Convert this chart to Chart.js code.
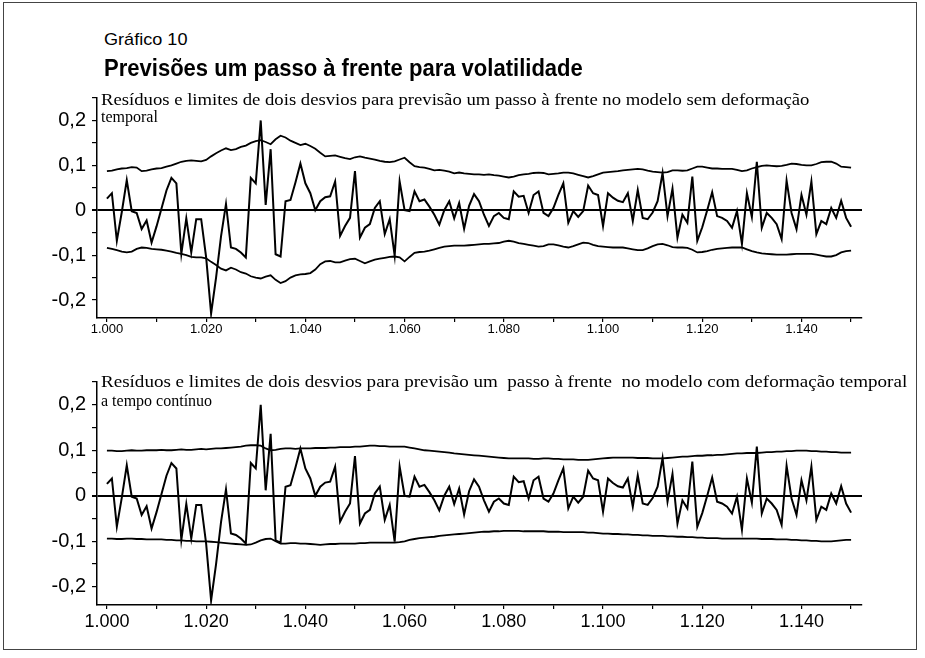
<!DOCTYPE html>
<html lang="pt-BR">
<head>
<meta charset="utf-8">
<script src="https://cdn.jsdelivr.net/npm/chart.js@4.4.1/dist/chart.umd.min.js"></script>
<style>
  html, body { margin: 0; padding: 0; background: #fff; }
  #page { position: relative; width: 925px; height: 658px; overflow: hidden; background: #fff; }
  #moldura { position: absolute; left: 3px; top: 2px; width: 914px; height: 648px; border: 1px solid #444; box-sizing: border-box; }
  canvas { position: absolute; left: 0; }
  .txt { position: absolute; white-space: pre; line-height: 1; color: #000; transform-origin: 0 50%; }
  .sans { font-family: "Liberation Sans", Arial, sans-serif; }
  .serif { font-family: "Liberation Serif", "Times New Roman", serif; }
</style>
</head>
<body>
<div id="page">
  <div id="moldura"></div>
  <canvas id="painelA" width="925" height="260" style="top:80px"></canvas>
  <canvas id="painelB" width="925" height="298" style="top:360px"></canvas>

  <div class="txt sans" data-w="83" style="left:104px;top:31px;font-size:17px">Gráfico 10</div>
  <div class="txt sans" data-w="479" style="left:104px;top:57px;font-size:23px;font-weight:bold">Previsões um passo à frente para volatilidade</div>

  <div class="txt serif" data-w="709" style="left:101px;top:92px;font-size:16px">Resíduos e limites de dois desvios para previsão um passo à frente no modelo sem deformação</div>
  <div class="txt serif" style="left:101px;top:109px;font-size:16px">temporal</div>

  <div class="txt serif" data-w="806" style="left:101px;top:374px;font-size:16px">Resíduos e limites de dois desvios para previsão um  passo à frente  no modelo com deformação temporal</div>
  <div class="txt serif" style="left:101px;top:393px;font-size:16px">a tempo contínuo</div>
</div>

<script>
// períodos 1.000 a 1.150
const inicio = 1000;

const residuos = [
  0.026, 0.038, -0.068, -0.004, 0.067, -0.002, -0.006, -0.042, -0.023, -0.072,
  -0.036, 0.004, 0.044, 0.072, 0.06, -0.097, -0.018, -0.094, -0.02, -0.02,
  -0.105, -0.23, -0.15, -0.058, 0.014, -0.083, -0.086, -0.094, -0.105, 0.072,
  0.06, 0.2, 0.012, 0.136, -0.098, -0.103, 0.02, 0.023, 0.062, 0.104,
  0.06, 0.038, 0.0, 0.02, 0.029, 0.031, 0.064, -0.057, -0.035, -0.017,
  0.087, -0.061, -0.039, -0.031, 0.005, 0.02, -0.053, -0.02, -0.101, 0.064,
  0.0, -0.002, 0.042, 0.02, 0.024, 0.008, -0.01, -0.032, 0.0, 0.02,
  -0.018, 0.016, -0.041, 0.01, 0.036, 0.02, -0.01, -0.035, -0.013, -0.006,
  -0.017, -0.02, 0.042, 0.03, 0.032, -0.006, 0.034, 0.042, -0.006, -0.013,
  0.005, 0.034, 0.06, -0.028, -0.002, -0.015, -0.002, 0.055, 0.038, 0.034,
  -0.035, 0.038, 0.028, 0.021, 0.018, 0.038, -0.024, 0.045, -0.017, -0.02,
  -0.005, 0.02, 0.083, -0.013, 0.048, -0.061, -0.01, -0.028, 0.075, -0.068,
  -0.038, 0.0, 0.04, -0.013, -0.017, -0.024, -0.039, -0.002, -0.075, 0.038,
  -0.015, 0.108, -0.039, -0.006, -0.017, -0.031, -0.064, 0.066, -0.006, -0.042,
  0.034, -0.01, 0.064, -0.053, -0.024, -0.031, 0.005, -0.017, 0.021, -0.017,
  -0.037
];

// modelo sem deformação temporal
const limSupA = [
  0.087, 0.088, 0.091, 0.093, 0.094, 0.096, 0.095, 0.087, 0.088, 0.091,
  0.093, 0.094, 0.097, 0.1, 0.104, 0.108, 0.11, 0.111, 0.11, 0.109,
  0.112, 0.12, 0.127, 0.133, 0.138, 0.134, 0.136, 0.141, 0.144, 0.15,
  0.154, 0.156, 0.152, 0.147, 0.158, 0.166, 0.162, 0.155, 0.15, 0.145,
  0.148, 0.143, 0.137, 0.128, 0.12, 0.121, 0.122, 0.119, 0.116, 0.114,
  0.118, 0.12, 0.117, 0.115, 0.113, 0.11, 0.108, 0.107, 0.109, 0.113,
  0.117, 0.107, 0.098, 0.096, 0.095, 0.092, 0.089, 0.09, 0.088, 0.086,
  0.082, 0.084, 0.082, 0.081, 0.08, 0.08, 0.079, 0.08, 0.078, 0.077,
  0.075, 0.073, 0.075, 0.078, 0.08, 0.081, 0.083, 0.084, 0.083, 0.08,
  0.081, 0.082, 0.084, 0.084, 0.082, 0.079, 0.076, 0.073, 0.076, 0.08,
  0.084, 0.085, 0.086, 0.087, 0.089, 0.09, 0.091, 0.092, 0.091, 0.088,
  0.086, 0.085, 0.084, 0.085, 0.089, 0.089, 0.088, 0.089, 0.093, 0.097,
  0.097, 0.095, 0.093, 0.093, 0.092, 0.092, 0.092, 0.09, 0.087, 0.089,
  0.093, 0.096, 0.099, 0.1, 0.099, 0.098, 0.099, 0.101, 0.104, 0.103,
  0.101, 0.1, 0.1, 0.103, 0.107, 0.108, 0.108, 0.104, 0.097, 0.096,
  0.095
];
const limInfA = [
  -0.084, -0.086, -0.089, -0.092, -0.094, -0.092, -0.086, -0.083, -0.084, -0.086,
  -0.087, -0.088, -0.09, -0.092, -0.095, -0.097, -0.1, -0.104, -0.105, -0.105,
  -0.107, -0.115, -0.122, -0.13, -0.134, -0.128, -0.132, -0.138, -0.141, -0.147,
  -0.15, -0.152, -0.148, -0.145, -0.155, -0.162, -0.158, -0.15, -0.145, -0.143,
  -0.142, -0.14, -0.132, -0.12, -0.114, -0.113, -0.116, -0.116, -0.112, -0.109,
  -0.108, -0.113, -0.118, -0.114, -0.11, -0.108, -0.106, -0.104, -0.103, -0.105,
  -0.114, -0.104, -0.095, -0.093, -0.092, -0.09, -0.087, -0.084, -0.081, -0.08,
  -0.079, -0.079, -0.079, -0.078, -0.077, -0.076, -0.075, -0.075, -0.074, -0.073,
  -0.07, -0.068, -0.07, -0.073, -0.075, -0.077, -0.079, -0.081, -0.08, -0.076,
  -0.076, -0.078, -0.081, -0.083, -0.08, -0.076, -0.072, -0.073, -0.077, -0.08,
  -0.081, -0.082, -0.083, -0.083, -0.083, -0.085, -0.087, -0.089, -0.089, -0.085,
  -0.08, -0.076, -0.075, -0.078, -0.082, -0.083, -0.083, -0.084, -0.088, -0.094,
  -0.093, -0.091, -0.088, -0.086, -0.085, -0.084, -0.083, -0.083, -0.083, -0.087,
  -0.091, -0.094, -0.096, -0.097, -0.098, -0.099, -0.099, -0.099, -0.098, -0.097,
  -0.097, -0.097, -0.097, -0.099, -0.101, -0.103, -0.103, -0.1, -0.094, -0.091,
  -0.09
];

// modelo com deformação temporal a tempo contínuo
const limSupB = [
  0.099, 0.099, 0.098, 0.098, 0.099, 0.1, 0.099, 0.099, 0.1, 0.1,
  0.1, 0.101, 0.1, 0.1, 0.101, 0.102, 0.101, 0.101, 0.102, 0.103,
  0.102, 0.103, 0.104, 0.104, 0.105, 0.106, 0.107, 0.108, 0.11, 0.111,
  0.111, 0.11, 0.104, 0.1, 0.101, 0.103, 0.104, 0.104, 0.103, 0.104,
  0.104, 0.104, 0.105, 0.105, 0.105, 0.106, 0.106, 0.107, 0.107, 0.107,
  0.108, 0.108, 0.109, 0.11, 0.11, 0.109, 0.109, 0.108, 0.108, 0.108,
  0.108, 0.106, 0.104, 0.102, 0.1, 0.099, 0.098, 0.097, 0.096, 0.095,
  0.093, 0.092, 0.091, 0.09, 0.089, 0.088, 0.087, 0.086, 0.085, 0.084,
  0.083, 0.082, 0.082, 0.082, 0.082, 0.082, 0.081, 0.081, 0.082, 0.082,
  0.081, 0.081, 0.08, 0.08, 0.08, 0.079, 0.079, 0.079, 0.08, 0.081,
  0.082, 0.083, 0.084, 0.084, 0.084, 0.084, 0.084, 0.083, 0.083, 0.083,
  0.082, 0.082, 0.082, 0.083, 0.084, 0.085, 0.086, 0.086, 0.087, 0.088,
  0.088, 0.089, 0.089, 0.09, 0.09, 0.091, 0.092, 0.093, 0.093, 0.094,
  0.094, 0.094, 0.095, 0.096, 0.096, 0.097, 0.097, 0.098, 0.098, 0.099,
  0.099, 0.099, 0.098, 0.098, 0.097, 0.097, 0.096, 0.096, 0.095, 0.095,
  0.095
];
const limInfB = [
  -0.094, -0.094, -0.095, -0.095, -0.094, -0.094, -0.095, -0.095, -0.096, -0.096,
  -0.096, -0.096, -0.097, -0.097, -0.098, -0.098, -0.099, -0.099, -0.1, -0.1,
  -0.1, -0.101, -0.102, -0.103, -0.104, -0.105, -0.106, -0.107, -0.108, -0.107,
  -0.103, -0.098, -0.095, -0.094, -0.1, -0.105, -0.105, -0.104, -0.104, -0.105,
  -0.105, -0.106, -0.107, -0.108, -0.107, -0.106, -0.106, -0.105, -0.105, -0.105,
  -0.105, -0.104, -0.104, -0.103, -0.103, -0.103, -0.103, -0.103, -0.103, -0.102,
  -0.1, -0.097, -0.095, -0.093, -0.092, -0.091, -0.09, -0.088, -0.087, -0.086,
  -0.085, -0.084, -0.083, -0.082, -0.081, -0.08, -0.079, -0.079, -0.078, -0.078,
  -0.077, -0.077, -0.077, -0.077, -0.078, -0.078, -0.078, -0.078, -0.078, -0.079,
  -0.079, -0.079, -0.08, -0.08, -0.08, -0.08, -0.08, -0.081, -0.081, -0.082,
  -0.083, -0.083, -0.084, -0.084, -0.085, -0.085, -0.086, -0.086, -0.087, -0.087,
  -0.088, -0.088, -0.088, -0.089, -0.089, -0.09, -0.09, -0.091, -0.091, -0.092,
  -0.092, -0.093, -0.093, -0.093, -0.094, -0.094, -0.094, -0.094, -0.094, -0.094,
  -0.094, -0.094, -0.095, -0.095, -0.095, -0.096, -0.096, -0.096, -0.097, -0.097,
  -0.098, -0.098, -0.099, -0.099, -0.1, -0.1, -0.1, -0.099, -0.098, -0.097,
  -0.097
];

const periodos = residuos.map((_, i) => inicio + i);
const pts = arr => periodos.map((x, i) => ({ x, y: arr[i] }));

const fmtY = v => {
  if (Math.abs(v) < 1e-9) return '0';
  if (Math.abs(v * 10 - Math.round(v * 10)) > 1e-6 || Math.abs(v) > 0.2001) return '';
  return v.toFixed(1).replace('.', ',');
};
const fmtX = v => (Math.round(v) % 20 === 0 ? (v / 1000).toFixed(3) : '');

const serie = (data, w) => ({
  data, borderColor: '#000', borderWidth: w, pointRadius: 0, tension: 0, fill: false
});

const mkChart = (id, sup, inf, cfg) => new Chart(document.getElementById(id), {
  type: 'line',
  data: { datasets: [serie(pts(sup), 1.8), serie(pts(inf), 1.8), serie(pts(residuos), 2)] },
  options: {
    responsive: false, animation: false, devicePixelRatio: 1,
    layout: { padding: { top: cfg.padTop, right: 63, left: 0, bottom: 0 } },
    plugins: { legend: { display: false }, tooltip: { enabled: false } },
    scales: {
      x: {
        type: 'linear', min: 998, max: 1152.2,
        afterBuildTicks: s => { s.ticks = s.ticks.filter(t => Math.round(t.value) % 10 === 0 && t.value >= 999 && t.value <= 1151); },
        afterFit: s => { s.height = cfg.xH; },
        ticks: { stepSize: 10, includeBounds: false, autoSkip: false, maxRotation: 0, padding: cfg.xPad, color: '#000', font: { family: 'Liberation Sans', size: cfg.xFont }, callback: fmtX },
        grid: { drawOnChartArea: false, tickLength: 4, color: '#000', lineWidth: 1.2 },
        border: { color: '#000', width: 1.5 }
      },
      y: {
        min: -0.24, max: 0.25,
        afterBuildTicks: s => { s.ticks = s.ticks.filter(t => Math.abs(t.value * 20 - Math.round(t.value * 20)) < 1e-6); },
        afterFit: s => { s.width = 97; },
        ticks: { stepSize: 0.05, includeBounds: false, autoSkip: false, padding: 6, color: '#000', font: { family: 'Liberation Sans', size: 20 }, callback: fmtY },
        grid: {
          drawOnChartArea: true, tickLength: 5, tickColor: '#000',
          color: c => (c.tick && Math.abs(c.tick.value) < 1e-9 ? '#000' : 'rgba(0,0,0,0)'),
          lineWidth: c => (c.tick && Math.abs(c.tick.value) < 1e-9 ? 2 : 1.2)
        },
        border: { color: '#000', width: 1.5 }
      }
    }
  }
});

mkChart('painelA', limSupA, limInfA, { padTop: 15, xH: 22, xPad: 0, xFont: 13 });
mkChart('painelB', limSupB, limInfB, { padTop: 22, xH: 53, xPad: 2, xFont: 18 });

// ajusta a largura dos textos
document.querySelectorAll('.txt[data-w]').forEach(el => {
  const alvo = +el.dataset.w;
  el.style.transform = `scaleX(${alvo / el.offsetWidth})`;
});
</script>
</body>
</html>
